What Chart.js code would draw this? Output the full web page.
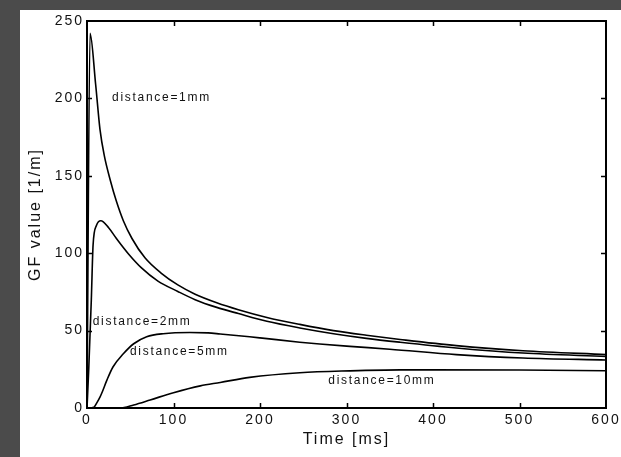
<!DOCTYPE html>
<html>
<head>
<meta charset="utf-8">
<script src="https://cdn.jsdelivr.net/npm/chart.js@4.4.1/dist/chart.umd.min.js"></script>
<style>
  html, body { margin: 0; padding: 0; background: #4b4b4b; width: 621px; height: 457px; overflow: hidden; }
  #wrap { position: absolute; left: 20px; top: 10px; width: 601px; height: 447px; background: #ffffff; }
  canvas { display: block; }
</style>
</head>
<body>
<div id="wrap"><canvas id="c" width="601" height="447"></canvas></div>
<script>
// ---- data ----
const t1mm  = [0, 3.5, 10, 15, 20, 27, 34, 42, 52, 67, 86, 105, 125, 150, 175, 208, 246, 285, 323, 362, 427, 504, 600];
const v1mm  = [0, 242, 209, 180, 163, 147, 133.5, 121, 109.5, 97, 87, 79.5, 73.5, 68, 63.5, 58.5, 54, 50, 47, 44.3, 40.3, 37, 34.5];

const t2mm  = [0, 2, 5, 7, 11, 16, 25, 34, 48, 63, 82, 105, 125, 150, 175, 208, 246, 285, 323, 362, 427, 504, 600];
const v2mm  = [0, 25, 70, 105, 118, 121, 116.5, 109.5, 99.5, 90.5, 82, 75.3, 70, 65, 61, 56, 51.7, 48, 45, 42.5, 38.8, 35.5, 33.3];

const t5mm  = [0, 8, 11, 15, 17, 23, 30, 42, 54, 69, 88, 119, 140, 154, 188, 200, 246, 269, 304, 350, 427, 504, 600];
const v5mm  = [0, 0.5, 3, 7, 9.5, 18, 26.5, 35, 41.5, 46, 48, 48.8, 48.5, 47.8, 46, 45.3, 42.5, 41.3, 39.8, 38, 34.5, 32.3, 31];

const t10mm = [0, 38, 54, 73, 100, 131, 154, 188, 246, 304, 362, 500, 600];
const v10mm = [0, 0, 2, 5.2, 9.9, 14.3, 16.5, 19.8, 22.8, 24, 24.6, 24.5, 24.1];

const xTicks = [0, 100, 200, 300, 400, 500, 600];
const yTicks = [0, 50, 100, 150, 200, 250];

// annotation labels: text, time, value (left-aligned anchor)
const labelTexts = ['distance=1mm', 'distance=2mm', 'distance=5mm', 'distance=10mm'];
const labelT     = [29, 6.6, 49.7, 279];
const labelV     = [200.5, 56, 36.6, 17.4];

const xTitle = 'Time [ms]';
const yTitle = 'GF value [1/m]';

// ---- build ----
function pts(ts, vs) { return ts.map((t, i) => ({ x: t, y: vs[i] })); }
const FONT = "'Liberation Sans', Arial, sans-serif";

const spacingPlugin = {
  id: 'spacing',
  beforeLayout(chart) { chart.ctx.letterSpacing = '2px'; },
  beforeDraw(chart) { chart.ctx.letterSpacing = '2px'; }
};

const framePlugin = {
  id: 'frame',
  afterDraw(chart) {
    const { ctx, chartArea: a, scales } = chart;
    const xs = scales.x, ys = scales.y;
    ctx.save();
    ctx.strokeStyle = '#000';
    ctx.lineWidth = 2;
    ctx.strokeRect(a.left, a.top, a.right - a.left, a.bottom - a.top);
    ctx.lineWidth = 1.5;
    const L = 5;
    ctx.beginPath();
    xTicks.slice(1, -1).forEach(t => {
      const px = Math.round(xs.getPixelForValue(t)) + 0.5;
      ctx.moveTo(px, a.bottom); ctx.lineTo(px, a.bottom - L);
      ctx.moveTo(px, a.top); ctx.lineTo(px, a.top + L);
    });
    yTicks.slice(1, -1).forEach(v => {
      const py = Math.round(ys.getPixelForValue(v)) + 0.5;
      ctx.moveTo(a.left, py); ctx.lineTo(a.left + L, py);
      ctx.moveTo(a.right, py); ctx.lineTo(a.right - L, py);
    });
    ctx.stroke();
    ctx.restore();
  },
  afterDatasetsDraw(chart) {
    const { ctx, scales } = chart;
    ctx.save();
    ctx.letterSpacing = '1.7px';
    ctx.font = '12px ' + FONT;
    ctx.fillStyle = '#111';
    ctx.textAlign = 'left';
    ctx.textBaseline = 'middle';
    labelTexts.forEach((txt, i) => {
      ctx.fillText(txt, scales.x.getPixelForValue(labelT[i]), scales.y.getPixelForValue(labelV[i]));
    });
    ctx.restore();
  }
};

function ds(ts, vs) {
  return {
    data: pts(ts, vs),
    borderColor: '#000',
    borderWidth: 1.6,
    pointRadius: 0,
    fill: false,
    cubicInterpolationMode: 'monotone'
  };
}

function noPad(s) { s.paddingLeft = 0; s.paddingRight = 0; s.paddingTop = 0; s.paddingBottom = 0; }

new Chart(document.getElementById('c'), {
  type: 'line',
  data: { datasets: [ds(t1mm, v1mm), ds(t2mm, v2mm), ds(t5mm, v5mm), ds(t10mm, v10mm)] },
  options: {
    responsive: false,
    animation: false,
    devicePixelRatio: 1,
    layout: { padding: { top: 11, left: 0, right: 0, bottom: 0 } },
    plugins: { legend: { display: false }, tooltip: { enabled: false } },
    scales: {
      x: {
        type: 'linear', min: 0, max: 600,
        afterBuildTicks(s) { s.ticks = xTicks.map(v => ({ value: v })); },
        grid: { display: false, drawTicks: false },
        border: { display: false },
        ticks: { color: '#111', font: { family: FONT, size: 14 }, padding: 4, maxRotation: 0 },
        title: { display: true, text: xTitle, color: '#111', font: { family: FONT, size: 16 }, padding: { top: 0, bottom: 8 } },
        afterFit(s) { s.height = 49; noPad(s); }
      },
      y: {
        type: 'linear', min: 0, max: 250,
        afterBuildTicks(s) { s.ticks = yTicks.map(v => ({ value: v })); },
        grid: { display: false, drawTicks: false },
        border: { display: false },
        ticks: { color: '#111', font: { family: FONT, size: 14 }, padding: 3 },
        title: { display: true, text: yTitle, color: '#111', font: { family: FONT, size: 16 }, padding: { top: 6, bottom: 0 } },
        afterFit(s) { s.width = 67; noPad(s); }
      },
      y2: {
        type: 'linear', position: 'right', min: 0, max: 250,
        grid: { display: false, drawTicks: false },
        border: { display: false },
        ticks: { display: false },
        afterFit(s) { s.width = 15; noPad(s); }
      }
    }
  },
  plugins: [spacingPlugin, framePlugin]
});
</script>
</body>
</html>
